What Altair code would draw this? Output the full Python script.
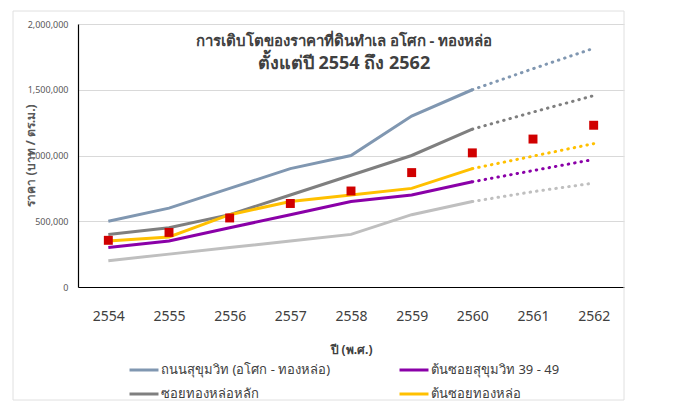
import altair as alt
import pandas as pd

years = ["2554", "2555", "2556", "2557", "2558", "2559", "2560", "2561", "2562"]
series_names = [
    "ถนนสุขุมวิท (อโศก - ทองหล่อ)",
    "ซอยทองหล่อหลัก",
    "ต้นซอยสุขุมวิท 39 - 49",
    "ต้นซอยทองหล่อ",
    "อื่นๆ",
]
blue_vals = [500000, 600000, 750000, 900000, 1000000, 1300000, 1500000, 1660000, 1815000]
gray_vals = [400000, 450000, 550000, 700000, 850000, 1000000, 1200000, 1330000, 1455000]
purple_vals = [300000, 350000, 450000, 550000, 650000, 700000, 800000, 885000, 970000]
yellow_vals = [350000, 380000, 550000, 650000, 700000, 750000, 900000, 995000, 1090000]
light_vals = [200000, 250000, 300000, 350000, 400000, 550000, 650000, 725000, 790000]
red_vals = [355000, 415000, 525000, 635000, 730000, 870000, 1020000, 1125000, 1230000]

colors = ["#8097B1", "#7F7F7F", "#8A00A8", "#FFC000", "#BFBFBF"]
actual_last = 6  # index of 2560

rows = []
for name, vals in zip(series_names, [blue_vals, gray_vals, purple_vals, yellow_vals, light_vals]):
    for i, (y, v) in enumerate(zip(years, vals)):
        if i <= actual_last:
            rows.append({"year": y, "series": name, "value": v, "kind": "actual"})
        if i >= actual_last:
            rows.append({"year": y, "series": name, "value": v, "kind": "proj"})
df = pd.DataFrame(rows)
red_df = pd.DataFrame({"year": years, "value": red_vals})

FONT = "Noto Sans"
xscale = alt.Scale(type="point", padding=0.5, domain=years)
yscale = alt.Scale(domain=[0, 2000000])
cscale = alt.Scale(domain=series_names, range=colors)

x_enc = alt.X("year:O", scale=xscale, sort=years,
              axis=alt.Axis(title="ปี (พ.ศ.)", labelAngle=0, labelFontSize=14, labelColor="#404040",
                            labelPadding=22, ticks=False, domainColor="#000000", domainWidth=1.2,
                            titleFontSize=12, titleFontWeight="bold", titleColor="#404040",
                            titlePadding=21, labelFont=FONT, titleFont=FONT))
y_enc = alt.Y("value:Q", scale=yscale,
              axis=alt.Axis(title="ราคา (บาท / ตร.ม.)", values=[0, 500000, 1000000, 1500000, 2000000],
                            format=",.0f", labelFontSize=9, labelColor="#595959", labelPadding=10,
                            ticks=False, domainColor="#000000", domainWidth=1.2, gridColor="#D9D9D9",
                            titleFontSize=12, titleFontWeight="bold", titleColor="#595959",
                            titleX=-48, titleY=131, titleAngle=270, titleAlign="center",
                            titleBaseline="middle", labelFont=FONT, titleFont=FONT))

base = alt.Chart(df)

solid = base.transform_filter(alt.datum.kind == "actual").mark_line(strokeWidth=3).encode(
    x=x_enc, y=y_enc,
    color=alt.Color("series:N", scale=cscale,
                    legend=alt.Legend(title=None, orient="none", legendX=57, legendY=337,
                                      columns=2, values=series_names[:4], symbolType="M-2,0H2",
                                      symbolSize=210, symbolStrokeWidth=3, labelFontSize=13,
                                      labelColor="#404040", labelFont=FONT, columnPadding=62,
                                      rowPadding=8, labelOffset=8, labelLimit=300)),
    order=alt.Order("year:O"),
)
dotted = base.transform_filter(alt.datum.kind == "proj").mark_line(
    strokeWidth=3, strokeDash=[0.5, 6], strokeCap="round").encode(
    x=alt.X("year:O", scale=xscale, sort=years),
    y=alt.Y("value:Q", scale=yscale),
    color=alt.Color("series:N", scale=cscale, legend=None),
)
squares = alt.Chart(red_df).mark_square(size=80, color="#D00000", opacity=1).encode(
    x=alt.X("year:O", scale=xscale, sort=years),
    y=alt.Y("value:Q", scale=yscale),
)

title_df = pd.DataFrame({"t": ["การเติบโตของราคาที่ดินทำเล อโศก - ทองหล่อ", "ตั้งแต่ปี 2554 ถึง 2562"]})
title1 = alt.Chart(title_df.iloc[[0]]).mark_text(fontSize=15, fontWeight="bold", color="#404040",
                                                 font=FONT, align="center").encode(
    text="t:N", x=alt.value(266), y=alt.value(17))
title2 = alt.Chart(title_df.iloc[[1]]).mark_text(fontSize=18, fontWeight="bold", color="#404040",
                                                 font=FONT, align="center").encode(
    text="t:N", x=alt.value(266), y=alt.value(40))

frame = alt.Chart(pd.DataFrame({"a": [0]})).mark_rect(fill=None, stroke="#E0E0E0", strokeWidth=1).encode(
    x=alt.value(-65), x2=alt.value(546), y=alt.value(-13), y2=alt.value(376))

chart = alt.layer(frame, solid, dotted, squares, title1, title2).properties(
    width=546, height=263,
    padding={"left": 70, "top": 16, "right": 40, "bottom": 118},
    autosize="none",
).configure_view(stroke=None)

chart.save("out.html", embed_options={"renderer": "svg", "actions": False})
